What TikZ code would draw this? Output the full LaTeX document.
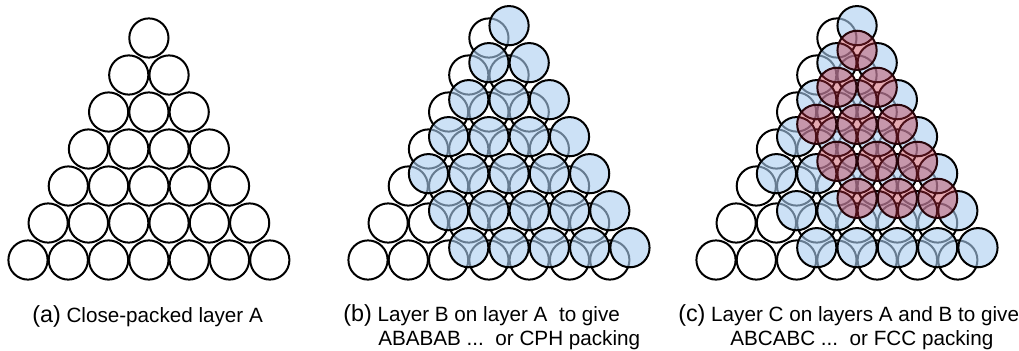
\documentclass[tikz,border=0pt]{standalone}
\usepackage{fontspec}
\setmainfont{Liberation Sans}
\definecolor{layerB}{RGB}{170,205,240}
\definecolor{layerC}{RGB}{190,40,60}
\definecolor{rimC}{RGB}{40,5,10}
\newcommand{\plabfont}{\fontsize{17.5}{20}\selectfont}
\begin{document}
\begin{tikzpicture}[x=0.75pt,y=-0.75pt,
  ballA/.style={draw=black,line width=1.5pt},
  ballB/.style={draw=black,line width=1.5pt,fill=layerB,fill opacity=0.6},
  ballC/.style={draw=rimC,line width=1.5pt,fill=layerC,fill opacity=0.4},
  caption/.style={anchor=base west,inner sep=0pt,font=\fontsize{15.5}{18}\selectfont},
]
\useasboundingbox (0,0) rectangle (1019,350);
\def\rr{19.6}
% layer A: triangle of 7 rows in each panel
\foreach \ox in {0,340,688}{
  \foreach \r in {1,...,7}{
    \foreach \k in {1,...,\r}{
      \draw[ballA] ({\ox+148.9-20.15*(\r-1)+40.3*(\k-1)},{38+37*(\r-1)}) circle[radius=\rr];
    }
  }
}
% layer B: in the hollows above layer A
\foreach \ox in {340,688}{
  \foreach \r/\ka/\kb in {1/1/1,2/1/2,3/1/3,4/1/4,5/1/5,6/2/6,7/3/7}{
    \foreach \k in {\ka,...,\kb}{
      \draw[ballB] ({\ox+169.05-20.15*(\r-1)+40.3*(\k-1)},{25.67+37*(\r-1)}) circle[radius=\rr];
    }
  }
}
% layer C: over the remaining hollows
\foreach \r/\ka/\kb in {1/1/1,2/1/2,3/1/3,4/2/4,5/3/5}{
  \foreach \k in {\ka,...,\kb}{
    \draw[ballC] ({688+169.05-20.15*(\r-1)+40.3*(\k-1)},{50.33+37*(\r-1)}) circle[radius=\rr];
  }
}
% captions
\node[caption] (capa) at (32,322) {{\plabfont(a)} Close-packed layer A};
\node[caption] (capb1) at (343,321) {{\plabfont(b)} Layer B on layer A\ \ to give};
\node[caption] (capb2) at (378,345) {ABABAB ...\ \ or CPH packing};
\node[caption] (capc1) at (678,321) {{\plabfont(c)} Layer C on layers A and B to give};
\node[caption] (capc2) at (730,345) {ABCABC ...\ \ or FCC packing};
\end{tikzpicture}
\end{document}
